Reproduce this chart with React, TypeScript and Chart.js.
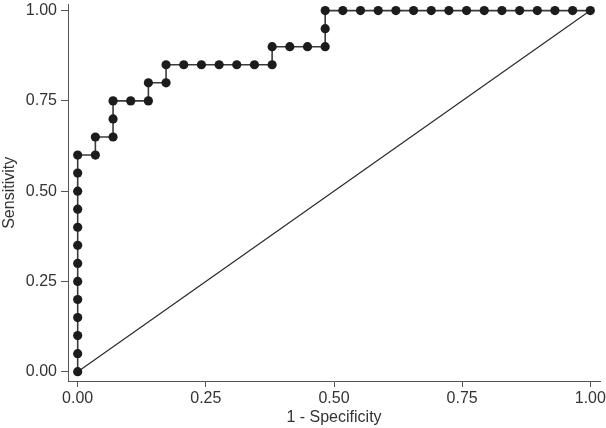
import React, { useEffect, useRef } from "react";
import { Chart, registerables } from "chart.js";

Chart.register(...registerables);

// ROC curve: 1 - specificity (x) and sensitivity (y)
const oneMinusSpecificity: number[] = [
  0, 0, 0, 0, 0, 0, 0, 0, 0, 0, 0, 0, 0,
  0.0345, 0.0345,
  0.069, 0.069, 0.069,
  0.1034,
  0.1379, 0.1379,
  0.1724, 0.1724,
  0.2069, 0.2414, 0.2759, 0.3103, 0.3448,
  0.3793, 0.3793,
  0.4138, 0.4483,
  0.4828, 0.4828, 0.4828,
  0.5172, 0.5517, 0.5862, 0.6207, 0.6552, 0.6897, 0.7241, 0.7586,
  0.7931, 0.8276, 0.8621, 0.8966, 0.931, 0.9655, 1,
];
const sensitivity: number[] = [
  0, 0.05, 0.1, 0.15, 0.2, 0.25, 0.3, 0.35, 0.4, 0.45, 0.5, 0.55, 0.6,
  0.6, 0.65,
  0.65, 0.7, 0.75,
  0.75,
  0.75, 0.8,
  0.8, 0.85,
  0.85, 0.85, 0.85, 0.85, 0.85,
  0.85, 0.9,
  0.9, 0.9,
  0.9, 0.95, 1,
  1, 1, 1, 1, 1, 1, 1, 1,
  1, 1, 1, 1, 1, 1, 1,
];
const referenceX: number[] = [0, 1];
const referenceY: number[] = [0, 1];
const tickValues: number[] = [0, 0.25, 0.5, 0.75, 1];
const xTitle = "1 - Specificity";
const yTitle = "Sensitivity";

const FONT = '"Liberation Sans", Arial, Helvetica, sans-serif';

export default function App() {
  const ref = useRef<HTMLCanvasElement | null>(null);

  useEffect(() => {
    if (!ref.current) return;
    const roc = oneMinusSpecificity.map((x, i) => ({ x, y: sensitivity[i] }));
    const diag = referenceX.map((x, i) => ({ x, y: referenceY[i] }));
    const setTicks = (scale: any) => {
      scale.ticks = tickValues.map((v) => ({ value: v }));
    };
    const chart = new Chart(ref.current, {
      type: "scatter",
      data: {
        datasets: [
          {
            data: diag,
            showLine: true,
            borderColor: "#2a2a2a",
            borderWidth: 1.2,
            pointRadius: 0,
            order: 2,
          },
          {
            data: roc,
            showLine: true,
            borderColor: "#3a3a3a",
            borderWidth: 1.6,
            pointRadius: 4.6,
            pointBackgroundColor: "#1c1c1c",
            pointBorderColor: "#1c1c1c",
            pointBorderWidth: 0,
            order: 1,
          },
        ],
      },
      options: {
        animation: false,
        responsive: false,
        maintainAspectRatio: false,
        layout: { padding: { left: 0, right: 6, top: 0, bottom: 0 } },
        plugins: {
          legend: { display: false },
          tooltip: { enabled: false },
        },
        scales: {
          x: {
            type: "linear",
            min: -0.0189,
            max: 1.0189,
            afterBuildTicks: setTicks,
            afterFit: (s: any) => {
              s.height = 47;
              s.paddingLeft = 0;
              s.paddingRight = 0;
            },
            grid: {
              drawOnChartArea: false,
              drawTicks: true,
              tickLength: 6,
              color: "#555",
              lineWidth: 1,
            },
            border: { display: true, color: "#555", width: 1 },
            ticks: {
              padding: 2,
              color: "#333",
              font: { family: FONT, size: 16 },
              maxRotation: 0,
              callback: (v: any) => Number(v).toFixed(2),
            },
            title: {
              display: true,
              text: xTitle,
              color: "#333",
              font: { family: FONT, size: 16 },
              padding: { top: 0, bottom: 1 },
            },
          },
          y: {
            type: "linear",
            min: -0.0257,
            max: 1.0166,
            afterBuildTicks: setTicks,
            afterFit: (s: any) => {
              s.width = 68;
              s.paddingTop = 0;
              s.paddingBottom = 0;
            },
            grid: {
              drawOnChartArea: false,
              drawTicks: true,
              tickLength: 7,
              color: "#555",
              lineWidth: 1,
            },
            border: { display: true, color: "#555", width: 1 },
            ticks: {
              padding: 4,
              color: "#333",
              font: { family: FONT, size: 16 },
              callback: (v: any) => Number(v).toFixed(2),
            },
            title: {
              display: true,
              text: yTitle,
              color: "#333",
              font: { family: FONT, size: 16 },
              padding: { top: 0, bottom: 0 },
            },
          },
        },
      },
    });
    return () => chart.destroy();
  }, []);

  return (
    <div
      style={{
        position: "fixed",
        left: 0,
        top: 0,
        width: 606,
        height: 428,
        background: "#fff",
      }}
    >
      <canvas ref={ref} width={606} height={428} />
    </div>
  );
}
